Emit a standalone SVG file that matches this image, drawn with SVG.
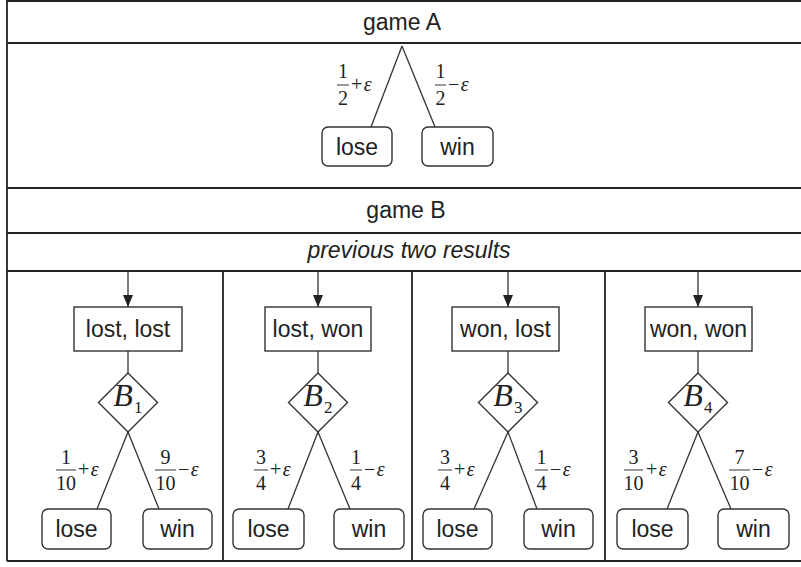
<svg xmlns="http://www.w3.org/2000/svg" width="801" height="567" viewBox="0 0 801 567">
  <style>
    .frame { stroke: #222; stroke-width: 1.8; fill: none; }
    .box { fill: #fff; stroke: #333; stroke-width: 1.4; }
    .edge { stroke: #333; stroke-width: 1.3; fill: none; }
    .lbl { font-family: "Liberation Sans", Arial, sans-serif; font-size: 23px; fill: #222; text-anchor: middle; }
    .it { font-style: italic; }
    .m { font-family: "Liberation Serif", "Times New Roman", serif; font-size: 20px; fill: #222; }
    .mc { text-anchor: middle; }
    .sg { letter-spacing: 1.5px; }
    .eps { font-style: italic; }
    .bar { stroke: #333; stroke-width: 1; }
    .bl { font-family: "Liberation Serif", "Times New Roman", serif; font-style: italic; font-size: 32px; fill: #222; text-anchor: middle; }
    .sub { font-family: "Liberation Serif", "Times New Roman", serif; font-size: 17px; fill: #222; }
  </style>
  <defs>
    <marker id="arrow" viewBox="0 0 12 10" refX="12" refY="5" markerWidth="12" markerHeight="11" markerUnits="userSpaceOnUse" orient="auto">
      <path d="M0,0 L12,5 L0,10 z" fill="#222"/>
    </marker>
  </defs>

  <rect width="801" height="567" fill="#fff"/>

  <!-- table frame: outer border, row rules and column dividers -->
  <g id="table">
    <line class="frame" x1="7" y1="1" x2="801" y2="1"/>
    <line class="frame" x1="7" y1="0" x2="7" y2="561"/>
    <line class="frame" x1="7" y1="43" x2="801" y2="43"/>
    <line class="frame" x1="7" y1="188" x2="801" y2="188"/>
    <line class="frame" x1="7" y1="233" x2="801" y2="233"/>
    <line class="frame" x1="7" y1="271" x2="801" y2="271"/>
    <line class="frame" x1="7" y1="561" x2="801" y2="561"/>
    <line class="frame" x1="223" y1="271" x2="223" y2="561"/>
    <line class="frame" x1="412" y1="271" x2="412" y2="561"/>
    <line class="frame" x1="605" y1="271" x2="605" y2="561"/>
  </g>

  <!-- row headings -->
  <g id="heading-game-a"><text class="lbl" x="402" y="30">game A</text></g>
  <g id="heading-game-b"><text class="lbl" x="406" y="218">game B</text></g>
  <g id="heading-previous"><text class="lbl it" x="409" y="258">previous two results</text></g>

  <!-- connectors -->
  <g id="connectors">
    <!-- game A split -->
    <line class="edge" x1="402" y1="46" x2="371" y2="127"/>
    <line class="edge" x1="402" y1="46" x2="435" y2="127"/>
    <!-- arrows into the state boxes -->
    <line class="edge" x1="128" y1="271" x2="128" y2="307" marker-end="url(#arrow)"/>
    <line class="edge" x1="318" y1="271" x2="318" y2="307" marker-end="url(#arrow)"/>
    <line class="edge" x1="508" y1="271" x2="508" y2="307" marker-end="url(#arrow)"/>
    <line class="edge" x1="698" y1="271" x2="698" y2="307" marker-end="url(#arrow)"/>
    <!-- state box to coin -->
    <line class="edge" x1="128" y1="351" x2="128" y2="373"/>
    <line class="edge" x1="318" y1="351" x2="318" y2="373"/>
    <line class="edge" x1="508" y1="351" x2="508" y2="373"/>
    <line class="edge" x1="698" y1="351" x2="698" y2="373"/>
    <!-- coin outcomes -->
    <line class="edge" x1="128" y1="432" x2="97" y2="509"/>
    <line class="edge" x1="128" y1="432" x2="159" y2="509"/>
    <line class="edge" x1="318" y1="432" x2="288" y2="509"/>
    <line class="edge" x1="318" y1="432" x2="350" y2="509"/>
    <line class="edge" x1="508" y1="432" x2="474" y2="509"/>
    <line class="edge" x1="508" y1="432" x2="537" y2="509"/>
    <line class="edge" x1="698" y1="432" x2="667" y2="509"/>
    <line class="edge" x1="698" y1="432" x2="731" y2="509"/>
  </g>

  <!-- probability labels -->
  <g id="probabilities">
    <!-- game A -->
    <text class="m mc" x="343" y="78">1</text><line class="bar" x1="337" y1="85" x2="349" y2="85"/><text class="m mc" x="343" y="105">2</text>
    <text class="m sg" x="351" y="91">+<tspan class="eps">ε</tspan></text>
    <text class="m mc" x="440.5" y="78">1</text><line class="bar" x1="435" y1="85" x2="446" y2="85"/><text class="m mc" x="440.5" y="105">2</text>
    <text class="m sg" x="448" y="91">−<tspan class="eps">ε</tspan></text>
    <!-- B1 -->
    <text class="m mc" x="66" y="464">1</text><line class="bar" x1="56" y1="470" x2="76" y2="470"/><text class="m mc" x="66" y="490">10</text>
    <text class="m sg" x="78" y="476">+<tspan class="eps">ε</tspan></text>
    <text class="m mc" x="165.5" y="464">9</text><line class="bar" x1="155" y1="470" x2="176" y2="470"/><text class="m mc" x="165.5" y="490">10</text>
    <text class="m sg" x="178" y="476">−<tspan class="eps">ε</tspan></text>
    <!-- B2 -->
    <text class="m mc" x="261" y="464">3</text><line class="bar" x1="254" y1="470" x2="268" y2="470"/><text class="m mc" x="261" y="490">4</text>
    <text class="m sg" x="270" y="476">+<tspan class="eps">ε</tspan></text>
    <text class="m mc" x="356" y="464">1</text><line class="bar" x1="350" y1="470" x2="362" y2="470"/><text class="m mc" x="356" y="490">4</text>
    <text class="m sg" x="364" y="476">−<tspan class="eps">ε</tspan></text>
    <!-- B3 -->
    <text class="m mc" x="445" y="464">3</text><line class="bar" x1="438" y1="470" x2="452" y2="470"/><text class="m mc" x="445" y="490">4</text>
    <text class="m sg" x="454" y="476">+<tspan class="eps">ε</tspan></text>
    <text class="m mc" x="541.5" y="464">1</text><line class="bar" x1="535" y1="470" x2="548" y2="470"/><text class="m mc" x="541.5" y="490">4</text>
    <text class="m sg" x="550" y="476">−<tspan class="eps">ε</tspan></text>
    <!-- B4 -->
    <text class="m mc" x="633.5" y="464">3</text><line class="bar" x1="624" y1="470" x2="643" y2="470"/><text class="m mc" x="633.5" y="490">10</text>
    <text class="m sg" x="646" y="476">+<tspan class="eps">ε</tspan></text>
    <text class="m mc" x="739.5" y="464">7</text><line class="bar" x1="729" y1="470" x2="750" y2="470"/><text class="m mc" x="739.5" y="490">10</text>
    <text class="m sg" x="752" y="476">−<tspan class="eps">ε</tspan></text>
  </g>

  <!-- game A outcomes -->
  <g id="a-lose"><rect class="box" x="322" y="127" width="70" height="39" rx="6"/><text class="lbl" x="357" y="155">lose</text></g>
  <g id="a-win"><rect class="box" x="422" y="127" width="71" height="39" rx="6"/><text class="lbl" x="457.5" y="155">win</text></g>

  <!-- game B states -->
  <g id="state-ll"><rect class="box" x="74" y="307" width="108" height="44"/><text class="lbl" x="128" y="337">lost, lost</text></g>
  <g id="state-lw"><rect class="box" x="265" y="307" width="106" height="44"/><text class="lbl" x="318" y="337">lost, won</text></g>
  <g id="state-wl"><rect class="box" x="452" y="307" width="107" height="44"/><text class="lbl" x="505.5" y="337">won, lost</text></g>
  <g id="state-ww"><rect class="box" x="645" y="307" width="107" height="44"/><text class="lbl" x="698.5" y="337">won, won</text></g>

  <!-- biased coins -->
  <g id="coin-b1"><path class="box" d="M128,373 L157.5,402.5 L128,432 L98.5,402.5 z"/><text class="bl" x="123" y="406">B</text><text class="sub" x="134" y="413">1</text></g>
  <g id="coin-b2"><path class="box" d="M318,373 L347.5,402.5 L318,432 L288.5,402.5 z"/><text class="bl" x="313" y="406">B</text><text class="sub" x="324" y="413">2</text></g>
  <g id="coin-b3"><path class="box" d="M508,373 L537.5,402.5 L508,432 L478.5,402.5 z"/><text class="bl" x="503" y="406">B</text><text class="sub" x="514" y="413">3</text></g>
  <g id="coin-b4"><path class="box" d="M698,373 L727.5,402.5 L698,432 L668.5,402.5 z"/><text class="bl" x="693" y="406">B</text><text class="sub" x="704" y="413">4</text></g>

  <!-- game B outcomes -->
  <g id="b1-lose"><rect class="box" x="42" y="509" width="69" height="40" rx="6"/><text class="lbl" x="76.5" y="537">lose</text></g>
  <g id="b1-win"><rect class="box" x="143" y="509" width="69" height="40" rx="6"/><text class="lbl" x="177.5" y="537">win</text></g>
  <g id="b2-lose"><rect class="box" x="233" y="509" width="71" height="40" rx="6"/><text class="lbl" x="268.5" y="537">lose</text></g>
  <g id="b2-win"><rect class="box" x="334" y="509" width="70" height="40" rx="6"/><text class="lbl" x="369" y="537">win</text></g>
  <g id="b3-lose"><rect class="box" x="423" y="509" width="69" height="40" rx="6"/><text class="lbl" x="457.5" y="537">lose</text></g>
  <g id="b3-win"><rect class="box" x="524" y="509" width="69" height="40" rx="6"/><text class="lbl" x="558.5" y="537">win</text></g>
  <g id="b4-lose"><rect class="box" x="617" y="509" width="71" height="40" rx="6"/><text class="lbl" x="652.5" y="537">lose</text></g>
  <g id="b4-win"><rect class="box" x="718" y="509" width="71" height="40" rx="6"/><text class="lbl" x="753.5" y="537">win</text></g>
</svg>
